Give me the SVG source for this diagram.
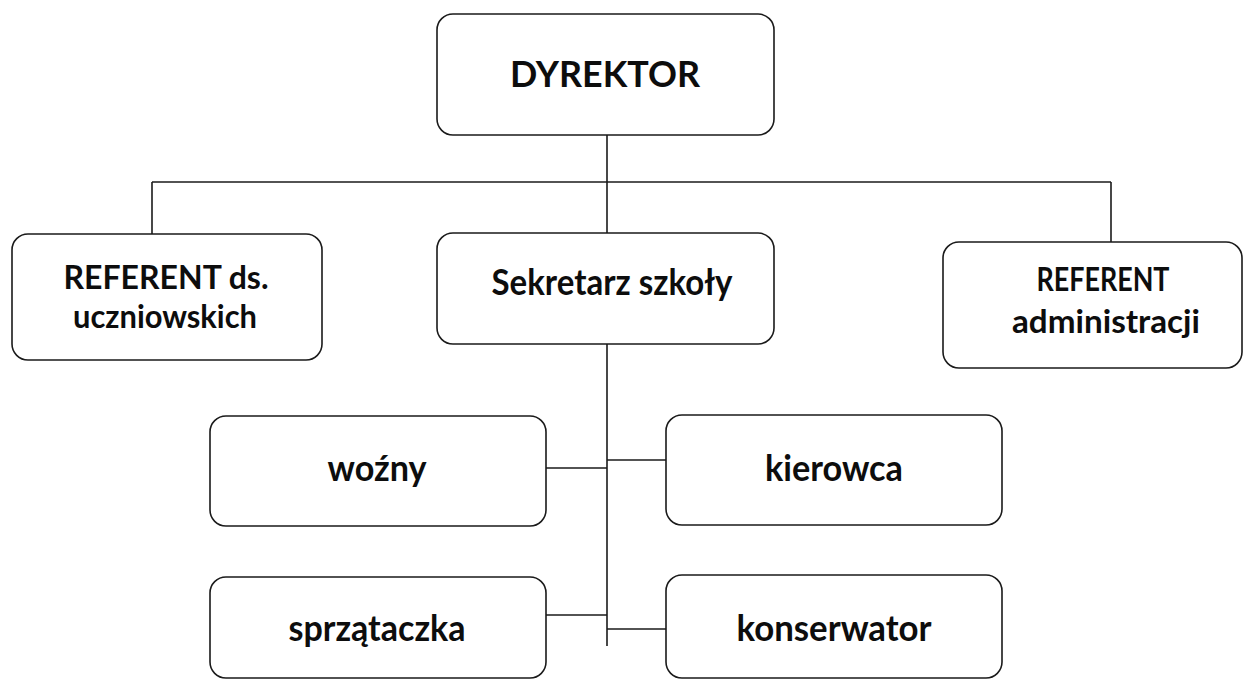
<svg xmlns="http://www.w3.org/2000/svg" width="1245" height="680" viewBox="0 0 1245 680">
<style>
.box{fill:#ffffff;stroke:#1a1a1a;stroke-width:1.6}
.lbl{font-family:Lato,"Open Sans","Liberation Sans",sans-serif;font-weight:bold;font-size:36px;fill:#0d0d0d;text-anchor:middle}
.two{font-size:32px}
.con{stroke:#1a1a1a;stroke-width:1.6;fill:none}
</style>
<rect width="1245" height="680" fill="#ffffff"/>
<g id="connectors">
<path class="con" d="M607,135 V233"/>
<path class="con" d="M152,182 H1111"/>
<path class="con" d="M152,182 V234"/>
<path class="con" d="M1111,182 V242"/>
<path class="con" d="M607,344 V646"/>
<path class="con" d="M546,468 H607"/>
<path class="con" d="M607,460 H666"/>
<path class="con" d="M546,615 H607"/>
<path class="con" d="M607,629 H666"/>
</g>
<g id="dyrektor">
<rect class="box" x="437" y="14" width="337" height="121" rx="16"/>
<text class="lbl" x="605" y="87" textLength="190" lengthAdjust="spacingAndGlyphs">DYREKTOR</text>
</g>
<g id="referent-uczniowskich">
<rect class="box" x="12" y="234" width="310" height="126" rx="16"/>
<text class="lbl two" x="166" y="289" textLength="205" lengthAdjust="spacingAndGlyphs">REFERENT ds.</text>
<text class="lbl two" x="165" y="328" textLength="184" lengthAdjust="spacingAndGlyphs">uczniowskich</text>
</g>
<g id="sekretarz">
<rect class="box" x="437" y="233" width="337" height="111" rx="16"/>
<text class="lbl" x="612" y="295" textLength="241" lengthAdjust="spacingAndGlyphs">Sekretarz szkoły</text>
</g>
<g id="referent-administracji">
<rect class="box" x="943" y="242" width="299" height="126" rx="16"/>
<text class="lbl two" x="1103" y="291" textLength="133" lengthAdjust="spacingAndGlyphs">REFERENT</text>
<text class="lbl two" x="1106" y="333" textLength="188" lengthAdjust="spacingAndGlyphs">administracji</text>
</g>
<g id="wozny">
<rect class="box" x="210" y="416" width="336" height="110" rx="16"/>
<text class="lbl" x="377" y="481" textLength="99" lengthAdjust="spacingAndGlyphs">woźny</text>
</g>
<g id="kierowca">
<rect class="box" x="666" y="415" width="336" height="110" rx="16"/>
<text class="lbl" x="834" y="481" textLength="138" lengthAdjust="spacingAndGlyphs">kierowca</text>
</g>
<g id="sprzataczka">
<rect class="box" x="210" y="577" width="336" height="101" rx="16"/>
<text class="lbl" x="377" y="641" textLength="177" lengthAdjust="spacingAndGlyphs">sprzątaczka</text>
</g>
<g id="konserwator">
<rect class="box" x="666" y="575" width="336" height="103" rx="16"/>
<text class="lbl" x="834" y="641" textLength="195" lengthAdjust="spacingAndGlyphs">konserwator</text>
</g>
</svg>
